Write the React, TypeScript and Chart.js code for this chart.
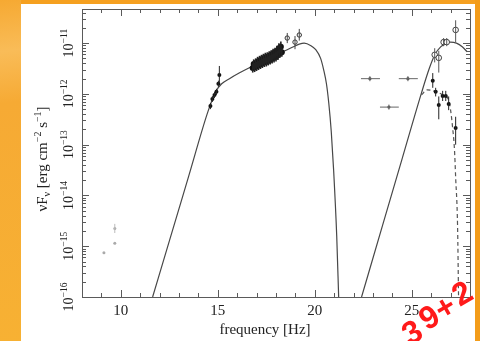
import React, { useEffect, useRef } from "react";
import { Chart, registerables } from "chart.js";

Chart.register(...registerables);

// ---------- axis ranges & tick labels ----------
const xMin = 8;
const xMax = 28;
const yMin = 1e-16;
const yMax = 4.7e-11;
const xMajorTicks = [10, 15, 20, 25];
const xTickLabels = ["10", "15", "20", "25"];
const yDecadeExps = [-16, -15, -14, -13, -12, -11];
const yTickLabels = ["−16", "−15", "−14", "−13", "−12", "−11"];

// ---------- model curves (x = log frequency, y given as log10 of nuFnu) ----------
const syncCurveX = [11.64, 12.5, 13.5, 14.5, 14.9, 15.2, 15.6, 16.1, 16.6, 17.5, 18.3, 18.9, 19.2, 19.45, 19.8, 20.05, 20.3, 20.46, 20.6, 20.72, 20.85, 20.97, 21.13, 21.23];
const syncCurveExp = [-16, -14.9, -13.62, -12.34, -11.95, -11.8, -11.7, -11.59, -11.49, -11.33, -11.18, -11.07, -11.02, -11.0, -11.05, -11.13, -11.3, -11.53, -11.8, -12.18, -12.75, -13.5, -14.8, -16];

const icCurveX = [22.41, 23.5, 24.5, 25.5, 25.9, 26.2, 26.5, 26.8, 27.0, 27.3, 27.6, 27.85];
const icCurveExp = [-16, -14.58, -13.28, -11.98, -11.5, -11.22, -11.07, -11.0, -10.98, -11.0, -11.07, -11.17];

const absCurveX = [25.5, 25.8, 26.2, 26.6, 26.9, 27.0, 27.1, 27.2, 27.26, 27.36, 27.41];
const absCurveExp = [-12.02, -11.92, -11.95, -12.02, -12.12, -12.32, -12.65, -13.1, -13.64, -14.62, -16];

// ---------- data points ----------
const radioX = [9.13, 9.69, 9.69];
const radioExp = [-15.13, -14.94, -14.65];
const radioErr = [null, null, [-14.74, -14.56]];

const optX = [14.62, 14.72, 14.83, 14.93, 15.03, 15.08];
const optExp = [-12.24, -12.1, -12.02, -11.96, -11.8, -11.63];
const optErr = [[-12.3, -12.18], [-12.16, -12.04], [-12.08, -11.96], [-12.02, -11.9], [-11.86, -11.74], [-11.78, -11.45]];

const xrayX = [16.8, 16.85, 16.9, 16.95, 17.0, 17.05, 17.1, 17.15, 17.2, 17.25, 17.3, 17.35, 17.4, 17.45, 17.5, 17.55, 17.6, 17.65, 17.7, 17.75, 17.8, 17.85, 17.9, 17.95, 18.0, 18.05, 18.1, 18.15, 18.2, 18.25, 18.3];
const xrayExp = [-11.49, -11.41, -11.48, -11.39, -11.46, -11.36, -11.44, -11.34, -11.42, -11.32, -11.4, -11.3, -11.38, -11.28, -11.37, -11.27, -11.35, -11.25, -11.33, -11.23, -11.31, -11.2, -11.29, -11.18, -11.27, -11.15, -11.24, -11.1, -11.2, -11.07, -11.18];
const xrayErrLo = [-11.58, -11.52, -11.57, -11.5, -11.55, -11.47, -11.53, -11.45, -11.51, -11.43, -11.49, -11.41, -11.47, -11.39, -11.46, -11.38, -11.44, -11.36, -11.42, -11.34, -11.4, -11.31, -11.38, -11.29, -11.36, -11.26, -11.33, -11.21, -11.29, -11.18, -11.27];
const xrayErrHi = [-11.4, -11.32, -11.39, -11.3, -11.37, -11.27, -11.35, -11.25, -11.33, -11.23, -11.31, -11.21, -11.29, -11.19, -11.28, -11.18, -11.26, -11.16, -11.24, -11.14, -11.22, -11.11, -11.2, -11.09, -11.18, -11.05, -11.15, -11.0, -11.11, -10.97, -11.09];

const hxX = [18.58, 18.98, 19.2];
const hxExp = [-10.9, -10.98, -10.84];
const hxErr = [[-11.0, -10.8], [-11.12, -10.86], [-10.95, -10.72]];

const lowGammaX = [22.84, 24.8, 23.82];
const lowGammaExp = [-11.7, -11.7, -12.26];
const lowGammaXErr = [[22.38, 23.36], [24.33, 25.31], [23.36, 24.33]];
const lowGammaErr = [[-11.75, -11.65], [-11.75, -11.65], [-12.31, -12.21]];

const fermiX = [26.18, 26.39, 26.64, 26.8, 27.26];
const fermiExp = [-11.23, -11.29, -10.98, -10.98, -10.74];
const fermiErr = [[-11.38, -11.1], [-11.58, -11.15], [-11.06, -10.9], [-11.06, -10.9], [-10.98, -10.55]];

const tevX = [26.08, 26.23, 26.39, 26.59, 26.75, 26.9, 27.26];
const tevExp = [-11.74, -11.96, -12.22, -12.04, -12.04, -12.2, -12.67];
const tevErr = [[-11.88, -11.59], [-12.05, -11.88], [-12.5, -12.05], [-12.14, -11.94], [-12.14, -11.94], [-12.32, -12.05], [-13.0, -12.45]];

const watermarkChars = ["3", "9", "+", "2"];

const SERIF = '"Liberation Serif", "DejaVu Serif", serif';

const toPts = (xs: number[], es: number[]) => xs.map((x, i) => ({ x, y: Math.pow(10, es[i]) }));

type Part = { t: string; size: number; dy: number };

function drawParts(ctx: CanvasRenderingContext2D, parts: Part[], x: number, y: number, rot: number) {
  ctx.save();
  ctx.translate(x, y);
  ctx.rotate(rot);
  ctx.textBaseline = "alphabetic";
  ctx.textAlign = "left";
  let w = 0;
  for (const p of parts) {
    ctx.font = `${p.size}px ${SERIF}`;
    w += ctx.measureText(p.t).width;
  }
  let cx = -w / 2;
  for (const p of parts) {
    ctx.font = `${p.size}px ${SERIF}`;
    ctx.fillText(p.t, cx, p.dy);
    cx += ctx.measureText(p.t).width;
  }
  ctx.restore();
}

const sedPlugin = {
  id: "sedPlugin",
  beforeDraw(chart: any) {
    const ctx: CanvasRenderingContext2D = chart.ctx;
    const W = chart.width;
    const H = chart.height;
    ctx.save();
    const g = ctx.createLinearGradient(0, 0, 40, H);
    g.addColorStop(0, "#f6a932");
    g.addColorStop(0.15, "#f9bc58");
    g.addColorStop(0.3, "#f6aa34");
    g.addColorStop(1, "#f7b133");
    ctx.fillStyle = g;
    ctx.fillRect(0, 0, W, H);
    ctx.fillStyle = "#f5a020";
    ctx.fillRect(21, 0, W - 21, 4);
    ctx.fillStyle = "#f39c1a";
    ctx.fillRect(475, 0, W - 475, H);
    ctx.fillStyle = "#ffffff";
    ctx.fillRect(21, 4, 454, H - 4);
    ctx.restore();
  },
  afterDatasetsDraw(chart: any) {
    const ctx: CanvasRenderingContext2D = chart.ctx;
    const xs = chart.scales.x;
    const ys = chart.scales.y;
    const a = chart.chartArea;
    ctx.save();
    ctx.beginPath();
    ctx.rect(a.left, a.top, a.right - a.left, a.bottom - a.top);
    ctx.clip();
    chart.data.datasets.forEach((ds: any) => {
      ctx.strokeStyle = ds.errColor || "#222";
      ctx.lineWidth = ds.errWidth || 1;
      ds.data.forEach((p: any, i: number) => {
        const px = xs.getPixelForValue(p.x);
        const py = ys.getPixelForValue(p.y);
        if (ds.errY && ds.errY[i]) {
          const [lo, hi] = ds.errY[i];
          ctx.beginPath();
          ctx.moveTo(px, ys.getPixelForValue(Math.pow(10, lo)));
          ctx.lineTo(px, ys.getPixelForValue(Math.pow(10, hi)));
          ctx.stroke();
        }
        if (ds.errX && ds.errX[i]) {
          const [lo, hi] = ds.errX[i];
          ctx.beginPath();
          ctx.moveTo(xs.getPixelForValue(lo), py);
          ctx.lineTo(xs.getPixelForValue(hi), py);
          ctx.stroke();
        }
      });
    });
    ctx.restore();
  },
  afterDraw(chart: any) {
    const ctx: CanvasRenderingContext2D = chart.ctx;
    const xs = chart.scales.x;
    const ys = chart.scales.y;
    const a = chart.chartArea;
    ctx.save();
    ctx.strokeStyle = "#5a5a5a";
    ctx.lineWidth = 1;
    // frame
    ctx.strokeRect(a.left + 0.5, a.top + 0.5, a.right - a.left, a.bottom - a.top);
    const major = 7;
    const minor = 4;
    ctx.beginPath();
    // x ticks
    for (let v = xMin; v <= xMax; v += 1) {
      const px = Math.round(xs.getPixelForValue(v)) + 0.5;
      const len = xMajorTicks.includes(v) ? major : minor;
      ctx.moveTo(px, a.bottom);
      ctx.lineTo(px, a.bottom - len);
      ctx.moveTo(px, a.top);
      ctx.lineTo(px, a.top + len);
    }
    // y ticks
    for (const d of yDecadeExps) {
      for (let k = 1; k <= 9; k++) {
        const v = k * Math.pow(10, d);
        if (v < yMin * 0.999 || v > yMax) continue;
        const py = Math.round(ys.getPixelForValue(v)) + 0.5;
        const len = k === 1 ? major : minor;
        ctx.moveTo(a.left, py);
        ctx.lineTo(a.left + len, py);
        ctx.moveTo(a.right, py);
        ctx.lineTo(a.right - len, py);
      }
    }
    ctx.stroke();

    ctx.fillStyle = "#222";
    // x tick labels
    ctx.font = `15px ${SERIF}`;
    ctx.textAlign = "center";
    ctx.textBaseline = "alphabetic";
    xMajorTicks.forEach((v, i) => {
      ctx.fillText(xTickLabels[i], xs.getPixelForValue(v), 315);
    });
    // x title
    ctx.fillText("frequency [Hz]", 265, 334);

    // y tick labels (rotated)
    yDecadeExps.forEach((d, i) => {
      const py = ys.getPixelForValue(Math.pow(10, d));
      drawParts(ctx, [
        { t: "10", size: 14, dy: 0 },
        { t: yTickLabels[i], size: 9.5, dy: -6 },
      ], 73, py, -Math.PI / 2);
    });
    // y title
    drawParts(ctx, [
      { t: "νF", size: 15, dy: 0 },
      { t: "ν", size: 10, dy: 3 },
      { t: " [erg cm", size: 15, dy: 0 },
      { t: "−2", size: 10, dy: -6 },
      { t: " s", size: 15, dy: 0 },
      { t: "−1", size: 10, dy: -6 },
      { t: "]", size: 15, dy: 0 },
    ], 47, 159, -Math.PI / 2);

    // watermark
    ctx.fillStyle = "#ff1a1a";
    ctx.font = 'bold 32px "Liberation Sans", "DejaVu Sans", sans-serif';
    ctx.textAlign = "center";
    ctx.textBaseline = "middle";
    const cxs = [413, 430, 446, 463];
    const cys = [334, 319, 309, 295];
    watermarkChars.forEach((c, i) => {
      ctx.save();
      ctx.translate(cxs[i], cys[i]);
      ctx.rotate(-Math.PI / 6);
      ctx.fillText(c, 0, 0);
      ctx.restore();
    });
    ctx.restore();
  },
};

export default function App() {
  const ref = useRef<HTMLCanvasElement>(null);
  useEffect(() => {
    if (!ref.current) return;
    const curveStyle = {
      showLine: true,
      pointRadius: 0,
      borderColor: "#474747",
      borderWidth: 1.2,
      cubicInterpolationMode: "monotone" as const,
      fill: false,
    };
    const chart = new Chart(ref.current, {
      type: "scatter",
      data: {
        datasets: [
          { data: toPts(optX, optExp), errY: optErr, pointRadius: 2, backgroundColor: "#111", borderColor: "#111", borderWidth: 0 } as any,
          { data: toPts(xrayX, xrayExp), errY: xrayErrLo.map((lo, i) => [lo, xrayErrHi[i]]), errWidth: 1.6, pointRadius: 3, backgroundColor: "#111", borderColor: "#111", borderWidth: 0 } as any,
          { data: toPts(hxX, hxExp), errY: hxErr, errColor: "#444", pointRadius: 2.2, backgroundColor: "#fff", borderColor: "#333", borderWidth: 1 } as any,
          { data: toPts(radioX, radioExp), errY: radioErr, errColor: "#bbb", pointRadius: 1.5, backgroundColor: "#aaa", borderColor: "#aaa", borderWidth: 0 } as any,
          { data: toPts(lowGammaX, lowGammaExp), errX: lowGammaXErr, errY: lowGammaErr, errColor: "#666", pointRadius: 1.6, backgroundColor: "#555", borderColor: "#555", borderWidth: 0 } as any,
          { data: toPts(fermiX, fermiExp), errY: fermiErr, errColor: "#555", pointRadius: 2.8, backgroundColor: "#fff", borderColor: "#444", borderWidth: 1 } as any,
          { data: toPts(tevX, tevExp), errY: tevErr, pointRadius: 2, backgroundColor: "#111", borderColor: "#111", borderWidth: 0 } as any,
          { data: toPts(syncCurveX, syncCurveExp), ...curveStyle } as any,
          { data: toPts(icCurveX, icCurveExp), ...curveStyle } as any,
          { data: toPts(absCurveX, absCurveExp), ...curveStyle, borderDash: [4, 3], borderColor: "#555" } as any,
        ],
      },
      options: {
        animation: false,
        responsive: false,
        events: [],
        layout: { padding: { left: 82, right: 10, top: 9, bottom: 44 }, autoPadding: false },
        plugins: { legend: { display: false }, tooltip: { enabled: false } },
        scales: {
          x: { type: "linear", min: xMin, max: xMax, display: false },
          y: { type: "logarithmic", min: yMin, max: yMax, display: false },
        },
      },
      plugins: [sedPlugin],
    } as any);
    return () => chart.destroy();
  }, []);
  return (
    <div style={{ position: "absolute", left: 0, top: 0, width: 480, height: 341 }}>
      <canvas ref={ref} width={480} height={341} style={{ display: "block" }} />
    </div>
  );
}
